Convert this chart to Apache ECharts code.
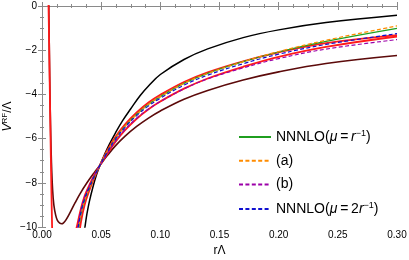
<!DOCTYPE html>
<html>
<head>
<meta charset="utf-8">
<script src="https://cdn.jsdelivr.net/npm/echarts@6/dist/echarts.min.js"></script>
<style>
html,body{margin:0;padding:0;background:#fff;}
#chart{width:409px;height:260px;}
</style>
</head>
<body>
<div id="chart"></div>
<script>
// ---- data ----
const X_TICKS = [0.00, 0.05, 0.10, 0.15, 0.20, 0.25, 0.30];
const Y_TICKS = [0, -2, -4, -6, -8, -10];

const R_BAND = [0.028,0.030,0.033,0.036,0.040,0.044,0.049,0.055,0.062,0.070,0.080,0.090,0.10,0.12,0.14,0.17,0.20,0.24,0.30];
const V_GREEN  = [-11.1,-10.4,-9.4,-8.8,-8.25,-7.75,-7.2,-6.6,-6.0,-5.45,-4.9,-4.45,-4.1,-3.5,-3.05,-2.52,-2.08,-1.6,-1.01];
const V_ORANGE = [-11.05,-10.35,-9.37,-8.78,-8.24,-7.75,-7.2,-6.6,-6.0,-5.45,-4.9,-4.45,-4.1,-3.5,-3.05,-2.52,-2.06,-1.55,-0.90];
const V_BLUE   = [-10.9,-10.2,-9.3,-8.72,-8.2,-7.72,-7.2,-6.63,-6.04,-5.5,-4.96,-4.52,-4.17,-3.58,-3.13,-2.61,-2.18,-1.74,-1.25];
const V_PURPLE = [-10.7,-10.05,-9.2,-8.65,-8.15,-7.7,-7.2,-6.68,-6.12,-5.6,-5.08,-4.66,-4.32,-3.75,-3.3,-2.8,-2.38,-1.95,-1.52];
const V_RED_A  = [-11.8,-10.9,-9.75,-9.0,-8.35,-7.8,-7.2,-6.55,-5.93,-5.37,-4.82,-4.37,-4.02,-3.44,-3.0,-2.5,-2.1,-1.68,-1.32];
const V_RED_B  = [-10.3,-9.85,-9.15,-8.6,-8.1,-7.67,-7.2,-6.7,-6.15,-5.63,-5.1,-4.67,-4.32,-3.74,-3.28,-2.75,-2.3,-1.85,-1.38];

const R_BLACK = [0.035,0.0363,0.038,0.040,0.043,0.046,0.049,0.053,0.057,0.062,0.068,0.075,0.083,0.090,0.10,0.12,0.14,0.17,0.20,0.24,0.30];
const V_BLACK = [-10.5,-10.0,-9.4,-8.85,-8.2,-7.65,-7.2,-6.7,-6.25,-5.75,-5.2,-4.65,-4.05,-3.62,-3.1,-2.42,-1.94,-1.43,-1.08,-0.75,-0.42];

const R_MAROON = [0.0056,0.006,0.0065,0.0072,0.008,0.009,0.010,0.0115,0.013,0.015,0.0166,0.018,0.020,0.0237,0.028,0.0321,0.038,0.044,0.049,0.055,0.062,0.070,0.080,0.090,0.10,0.12,0.14,0.17,0.20,0.24,0.30];
const V_MAROON = [0.5,-1.2,-3.2,-5.4,-7.1,-8.35,-9.0,-9.45,-9.7,-9.82,-9.85,-9.82,-9.7,-9.35,-8.9,-8.5,-8.0,-7.55,-7.2,-6.78,-6.33,-5.9,-5.45,-5.07,-4.75,-4.22,-3.82,-3.35,-2.98,-2.6,-2.24];

const R_RED_C = [0.0054,0.006,0.0065,0.007,0.0075,0.008,0.0085,0.009];
const V_RED_C = [0.4,-1.6,-3.4,-5.2,-6.9,-8.5,-9.9,-11.2];

const LEGEND_NAMES = ['NNNLO(μ=r^-1)', '(a)', '(b)', 'NNNLO(μ=2r^-1)'];

// ---- chart ----
const pairs = (rs, vs) => rs.map((r, i) => [r, vs[i]]);
const FONT = 'Liberation Sans, Arial, sans-serif';
const AX = '#8a8a8a';

function line(name, rs, vs, color, width, dashed, z) {
  return {
    name: name, type: 'line', data: pairs(rs, vs),
    showSymbol: false, symbol: 'none', smooth: 0.4,
    clip: true, z: z,
    lineStyle: { color: color, width: width, type: dashed ? [4, 2.4] : 'solid' },
    itemStyle: { color: color },
    emphasis: { disabled: true }
  };
}

const chart = echarts.init(document.getElementById('chart'), null, { renderer: 'canvas' });

const xCommon = {
  type: 'value', min: 0, max: 0.3, interval: 0.05,
  axisLine: { show: true, lineStyle: { color: AX, width: 1 } },
  axisTick: { show: true, inside: true, length: 4, lineStyle: { color: AX } },
  minorTick: { show: true, splitNumber: 4, length: 2, lineStyle: { color: AX } },
  splitLine: { show: false }
};
const yCommon = {
  type: 'value', min: -10, max: 0, interval: 2,
  axisLine: { show: true, lineStyle: { color: AX, width: 1 } },
  axisTick: { show: true, inside: true, length: 4, lineStyle: { color: AX } },
  minorTick: { show: true, splitNumber: 4, length: 2, lineStyle: { color: AX } },
  splitLine: { show: false }
};

chart.setOption({
  animation: false,
  backgroundColor: '#fff',
  grid: { left: 42, right: 12, top: 6, bottom: 33, containLabel: false, outerBoundsMode: 'none' },
  textStyle: { fontFamily: FONT },
  legend: {
    data: LEGEND_NAMES,
    orient: 'vertical', left: 238, top: 129, padding: 0,
    itemWidth: 32, itemHeight: 14, itemGap: 9.7,
    selectedMode: false,
    itemStyle: { opacity: 0, color: 'transparent', borderWidth: 0 },
    textStyle: {
      fontFamily: FONT, fontSize: 14, color: '#000',
      rich: {
        a: { fontFamily: FONT, fontSize: 14, color: '#000' },
        i: { fontFamily: FONT, fontSize: 14, fontStyle: 'italic', color: '#000' },
        s: { fontFamily: FONT, fontSize: 9, color: '#000', verticalAlign: 'top', padding: [0, 0, 7, 0] }
      }
    },
    formatter: function (n) {
      if (n === LEGEND_NAMES[0]) return '{a|NNNLO(}{i|μ}{a|\u2009=\u2009}{i|r}{s|−1}{a|)}';
      if (n === LEGEND_NAMES[3]) return '{a|NNNLO(}{i|μ}{a|\u2009=\u20092}{i|r}{s|−1}{a|)}';
      return '{a|' + n + '}';
    }
  },
  xAxis: [
    Object.assign({}, xCommon, {
      position: 'bottom',
      name: 'rΛ', nameLocation: 'middle', nameGap: 18, nameMoveOverlap: false,
      nameTextStyle: { fontFamily: FONT, fontSize: 12, color: '#000' },
      axisLabel: { show: true, margin: 3, fontFamily: FONT, fontSize: 10, color: '#000',
        formatter: v => v.toFixed(2) }
    }),
    Object.assign({}, xCommon, { position: 'top', axisLabel: { show: false } })
  ],
  yAxis: [
    Object.assign({}, yCommon, {
      position: 'left',
      name: '{v|V}{s|RF}{n|/Λ}', nameLocation: 'middle', nameGap: 27, nameRotate: 90,
      nameMoveOverlap: false,
      nameTextStyle: {
        fontFamily: FONT, fontSize: 12, color: '#000',
        rich: {
          v: { fontFamily: FONT, fontSize: 12, fontStyle: 'italic', color: '#000' },
          s: { fontFamily: FONT, fontSize: 8, color: '#000', verticalAlign: 'top', padding: [0, 0, 6, 0] },
          n: { fontFamily: FONT, fontSize: 12, color: '#000' }
        }
      },
      axisLabel: { show: true, margin: 5, fontFamily: FONT, fontSize: 10, color: '#000',
        formatter: v => (v === 0 ? '0' : (v < 0 ? '\u2212' + Math.abs(v) : String(v))) }
    }),
    Object.assign({}, yCommon, { position: 'right', axisLabel: { show: false } })
  ],
  series: [
    line('black', R_BLACK, V_BLACK, '#000000', 1.5, false, 2),
    line('maroon', R_MAROON, V_MAROON, '#5c0a0a', 1.6, false, 2),
    line('redC', R_RED_C, V_RED_C, '#ff1a1a', 1.8, false, 3),
    line('redA', R_BAND, V_RED_A, '#ff1a1a', 1.8, false, 3),
    line('redB', R_BAND, V_RED_B, '#ff1a1a', 1.8, false, 3),
    line(LEGEND_NAMES[0], R_BAND, V_GREEN, '#1f9e1f', 1.2, false, 4),
    line(LEGEND_NAMES[1], R_BAND, V_ORANGE, '#ff8c00', 1.2, true, 5),
    line(LEGEND_NAMES[2], R_BAND, V_PURPLE, '#9b00a8', 1.2, true, 5),
    line(LEGEND_NAMES[3], R_BAND, V_BLUE, '#1010d0', 1.2, true, 5)
  ]
});
</script>
</body>
</html>
